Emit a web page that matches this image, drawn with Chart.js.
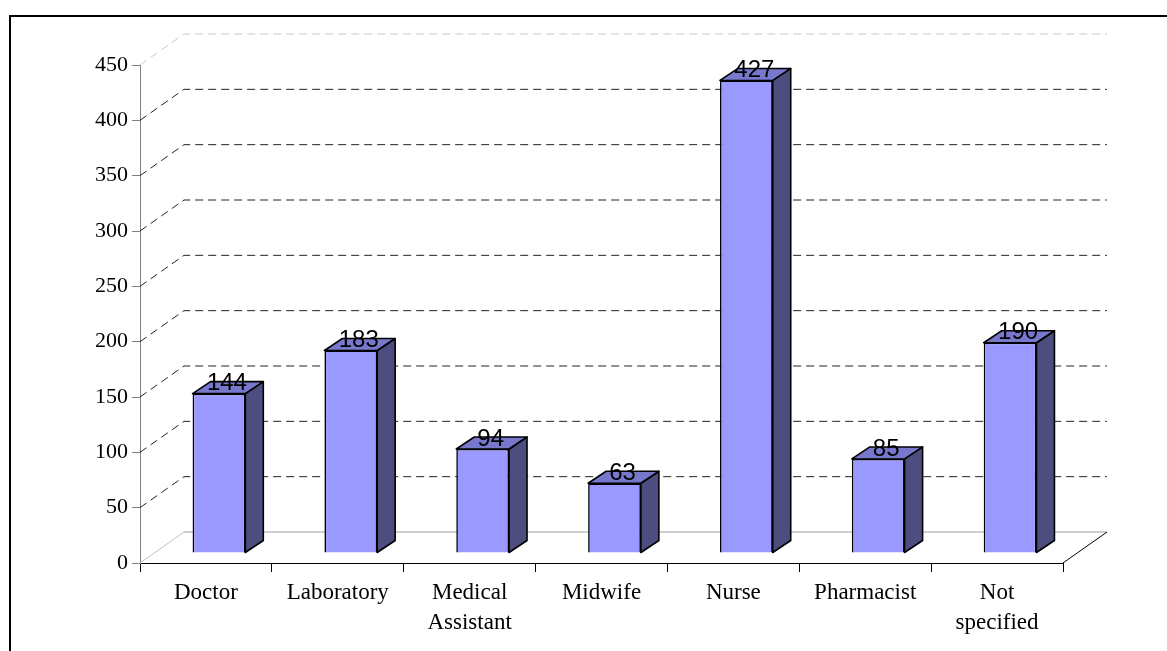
<!DOCTYPE html>
<html>
<head>
<meta charset="utf-8">
<script src="https://cdn.jsdelivr.net/npm/chart.js@4"></script>
<style>
  html, body { margin: 0; padding: 0; background: #ffffff; }
  canvas { display: block; }
</style>
</head>
<body>
<canvas id="staff-chart" width="1167" height="651"></canvas>
<script>
// Staff category counts - 3D style column chart

const categories = ["Doctor", "Laboratory", ["Medical", "Assistant"], "Midwife", "Nurse", "Pharmacist", ["Not", "specified"]];
const staffCounts = [144, 183, 94, 63, 427, 85, 190];
const yMax = 450;
const yStep = 50;

// depth offsets for the fake 3D look
const wallDepth = { dx: 44, dy: -31 };
const barShift = { dx: 13, dy: -10 };
const barDepth = { dx: 18, dy: -12 };

const bar3d = {
  id: "bar3d",
  beforeDraw(chart) {
    const ctx = chart.ctx;
    ctx.save();
    ctx.strokeStyle = "#000000";
    ctx.lineWidth = 2;
    ctx.beginPath();
    ctx.moveTo(10, chart.height + 5);
    ctx.lineTo(10, 16);
    ctx.lineTo(chart.width + 5, 16);
    ctx.stroke();
    ctx.restore();
  },
  beforeDatasetsDraw(chart) {
    const { ctx, chartArea, scales } = chart;
    const y = scales.y;
    ctx.save();
    ctx.lineWidth = 1;
    for (let v = 0; v <= yMax; v += yStep) {
      const py = y.getPixelForValue(v);
      if (v === 0) {
        ctx.setLineDash([]);
        ctx.strokeStyle = "#c0c0c0";
        ctx.beginPath();
        ctx.moveTo(chartArea.left, py);
        ctx.lineTo(chartArea.left + wallDepth.dx, py + wallDepth.dy);
        ctx.stroke();
        ctx.strokeStyle = "#a0a0a0";
        ctx.beginPath();
        ctx.moveTo(chartArea.left + wallDepth.dx, py + wallDepth.dy);
        ctx.lineTo(chartArea.right + wallDepth.dx, py + wallDepth.dy);
        ctx.stroke();
        // right floor edge
        ctx.strokeStyle = "#000000";
        ctx.beginPath();
        ctx.moveTo(chartArea.right, py);
        ctx.lineTo(chartArea.right + wallDepth.dx, py + wallDepth.dy);
        ctx.stroke();
        continue;
      }
      ctx.setLineDash([8, 5]);
      ctx.strokeStyle = v === yMax ? "#c8c8c8" : "#222222";
      ctx.beginPath();
      ctx.moveTo(chartArea.left, py);
      ctx.lineTo(chartArea.left + wallDepth.dx, py + wallDepth.dy);
      ctx.lineTo(chartArea.right + wallDepth.dx, py + wallDepth.dy);
      ctx.stroke();
    }
    ctx.restore();

    ctx.save();
    ctx.translate(barShift.dx, barShift.dy);
  },
  afterDatasetsDraw(chart) {
    const ctx = chart.ctx;
    const meta = chart.getDatasetMeta(0);
    ctx.lineWidth = 1.6;
    ctx.strokeStyle = "#000000";
    ctx.lineJoin = "round";
    const tops = [];
    meta.data.forEach(bar => {
      const { x, y, base, width } = bar.getProps(["x", "y", "base", "width"], true);
      const xl = x - width / 2;
      const xr = x + width / 2;
      // side face
      ctx.fillStyle = "#4d4d80";
      ctx.beginPath();
      ctx.moveTo(xr, y);
      ctx.lineTo(xr + barDepth.dx, y + barDepth.dy);
      ctx.lineTo(xr + barDepth.dx, base + barDepth.dy);
      ctx.lineTo(xr, base);
      ctx.closePath();
      ctx.fill();
      ctx.stroke();
      // top face
      ctx.fillStyle = "#7777cc";
      ctx.beginPath();
      ctx.moveTo(xl, y);
      ctx.lineTo(xl + barDepth.dx, y + barDepth.dy);
      ctx.lineTo(xr + barDepth.dx, y + barDepth.dy);
      ctx.lineTo(xr, y);
      ctx.closePath();
      ctx.fill();
      ctx.stroke();
      tops.push({ x: x + barShift.dx + barDepth.dx / 2, y: y + barShift.dy });
    });
    ctx.restore();

    // value labels
    ctx.save();
    ctx.fillStyle = "#000000";
    ctx.font = "24px 'Liberation Sans', Arial, sans-serif";
    ctx.textAlign = "center";
    ctx.textBaseline = "middle";
    tops.forEach((p, i) => {
      ctx.fillText(String(staffCounts[i]), p.x - 1, p.y - 10);
    });
    ctx.restore();
  }
};

document.addEventListener("DOMContentLoaded", () => {
  const ctx = document.getElementById("staff-chart").getContext("2d");
  const serif = { family: "'Liberation Serif', 'Times New Roman', serif", size: 23, lineHeight: 1.3 };

  new Chart(ctx, {
    type: "bar",
    data: {
      labels: categories,
      datasets: [{
        data: staffCounts,
        backgroundColor: "#9999ff",
        borderColor: "#000000",
        borderWidth: 1.6,
        barPercentage: 0.8,
        categoryPercentage: 0.5,
        clip: false
      }]
    },
    options: {
      responsive: false,
      animation: false,
      events: [],
      layout: {
        padding: { top: 65, left: 90, right: 104, bottom: 0 }
      },
      plugins: {
        legend: { display: false },
        tooltip: { enabled: false }
      },
      scales: {
        x: {
          afterFit: s => { s.height = 88; },
          grid: {
            drawOnChartArea: false,
            drawTicks: true,
            tickLength: 9,
            color: "#000000"
          },
          border: { color: "#000000", width: 1 },
          ticks: {
            color: "#000000",
            font: serif,
            padding: 6,
            maxRotation: 0,
            autoSkip: false
          }
        },
        y: {
          min: 0,
          max: yMax,
          afterFit: s => { s.width = 50; },
          grid: {
            drawOnChartArea: false,
            drawTicks: true,
            tickLength: 8,
            color: "#808080"
          },
          border: { color: "#808080", width: 1 },
          ticks: {
            stepSize: yStep,
            color: "#000000",
            font: { family: serif.family, size: 22 },
            padding: 4
          }
        }
      }
    },
    plugins: [bar3d]
  });
});
</script>
</body>
</html>
